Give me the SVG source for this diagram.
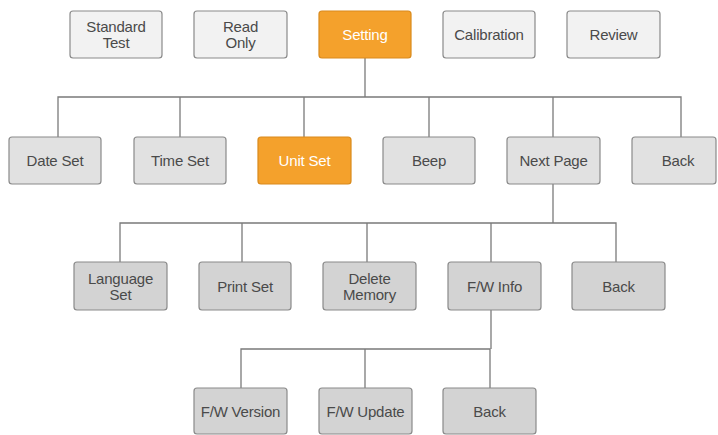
<svg xmlns="http://www.w3.org/2000/svg" width="718" height="435" viewBox="0 0 718 435">
  <style>
    .box rect { stroke: #8a8a8a; stroke-width: 1.2; }
    .l1 rect { fill: #f2f2f2; }
    .l2 rect { fill: #e1e1e1; }
    .l3 rect { fill: #d3d3d3; }
    .hi rect { fill: #f4a12c; stroke: #d98a1c; }
    text { font-family: "Liberation Sans", Arial, sans-serif; font-size: 15px; fill: #4a4a4a; text-anchor: middle; dominant-baseline: central; letter-spacing: -0.2px; }
    .hi text { fill: #ffffff; }
    .wire { fill: none; stroke: #7a7a7a; stroke-width: 1.3; }
  </style>
  <rect width="718" height="435" fill="#ffffff"/>

  <!-- connectors -->
  <g id="connectors" class="wire">
    <path d="M365 58 V97"/>
    <path d="M58 137 V97 H681 V137"/>
    <path d="M180 97 V137 M304 97 V137 M429 97 V137 M553 97 V137"/>
    <path d="M553 184 V223"/>
    <path d="M120 262 V223 H616 V262"/>
    <path d="M242 223 V262 M367 223 V262 M491 223 V262"/>
    <path d="M491 310 V349"/>
    <path d="M241 388 V349 H490 V388"/>
    <path d="M365 349 V388"/>
  </g>

  <!-- top menu -->
  <g id="standard-test" class="box l1"><rect x="70" y="11" width="92" height="47" rx="3"/><text x="116" y="26.5">Standard</text><text x="116" y="42">Test</text></g>
  <g id="read-only" class="box l1"><rect x="194" y="11" width="93" height="47" rx="3"/><text x="240.5" y="26.5">Read</text><text x="240.5" y="42">Only</text></g>
  <g id="setting" class="box hi"><rect x="319" y="11" width="92" height="47" rx="3"/><text x="365" y="34">Setting</text></g>
  <g id="calibration" class="box l1"><rect x="443" y="11" width="92" height="47" rx="3"/><text x="489" y="34">Calibration</text></g>
  <g id="review" class="box l1"><rect x="567" y="11" width="93" height="47" rx="3"/><text x="613.5" y="34">Review</text></g>

  <!-- setting submenu -->
  <g id="date-set" class="box l2"><rect x="9" y="137" width="92" height="47" rx="3"/><text x="55" y="160.5">Date Set</text></g>
  <g id="time-set" class="box l2"><rect x="134" y="137" width="92" height="47" rx="3"/><text x="180" y="160.5">Time Set</text></g>
  <g id="unit-set" class="box hi"><rect x="258" y="137" width="93" height="47" rx="3"/><text x="304.5" y="160.5">Unit Set</text></g>
  <g id="beep" class="box l2"><rect x="383" y="137" width="92" height="47" rx="3"/><text x="429" y="160.5">Beep</text></g>
  <g id="next-page" class="box l2"><rect x="507" y="137" width="93" height="47" rx="3"/><text x="553.5" y="160.5">Next Page</text></g>
  <g id="back-1" class="box l2"><rect x="632" y="137" width="84" height="47" rx="3"/><text x="678" y="160.5">Back</text></g>

  <!-- next page submenu -->
  <g id="language-set" class="box l3"><rect x="74" y="262" width="93" height="48" rx="3"/><text x="120.5" y="278.5">Language</text><text x="120.5" y="294">Set</text></g>
  <g id="print-set" class="box l3"><rect x="199" y="262" width="92" height="48" rx="3"/><text x="245" y="286">Print Set</text></g>
  <g id="delete-memory" class="box l3"><rect x="323" y="262" width="93" height="48" rx="3"/><text x="369.5" y="278.5">Delete</text><text x="369.5" y="294">Memory</text></g>
  <g id="fw-info" class="box l3"><rect x="448" y="262" width="93" height="48" rx="3"/><text x="494.5" y="286">F/W Info</text></g>
  <g id="back-2" class="box l3"><rect x="572" y="262" width="93" height="48" rx="3"/><text x="618.5" y="286">Back</text></g>

  <!-- firmware submenu -->
  <g id="fw-version" class="box l3"><rect x="194" y="388" width="93" height="46" rx="3"/><text x="240.5" y="411">F/W Version</text></g>
  <g id="fw-update" class="box l3"><rect x="319" y="388" width="93" height="46" rx="3"/><text x="365.5" y="411">F/W Update</text></g>
  <g id="back-3" class="box l3"><rect x="443" y="388" width="93" height="46" rx="3"/><text x="489.5" y="411">Back</text></g>
</svg>
